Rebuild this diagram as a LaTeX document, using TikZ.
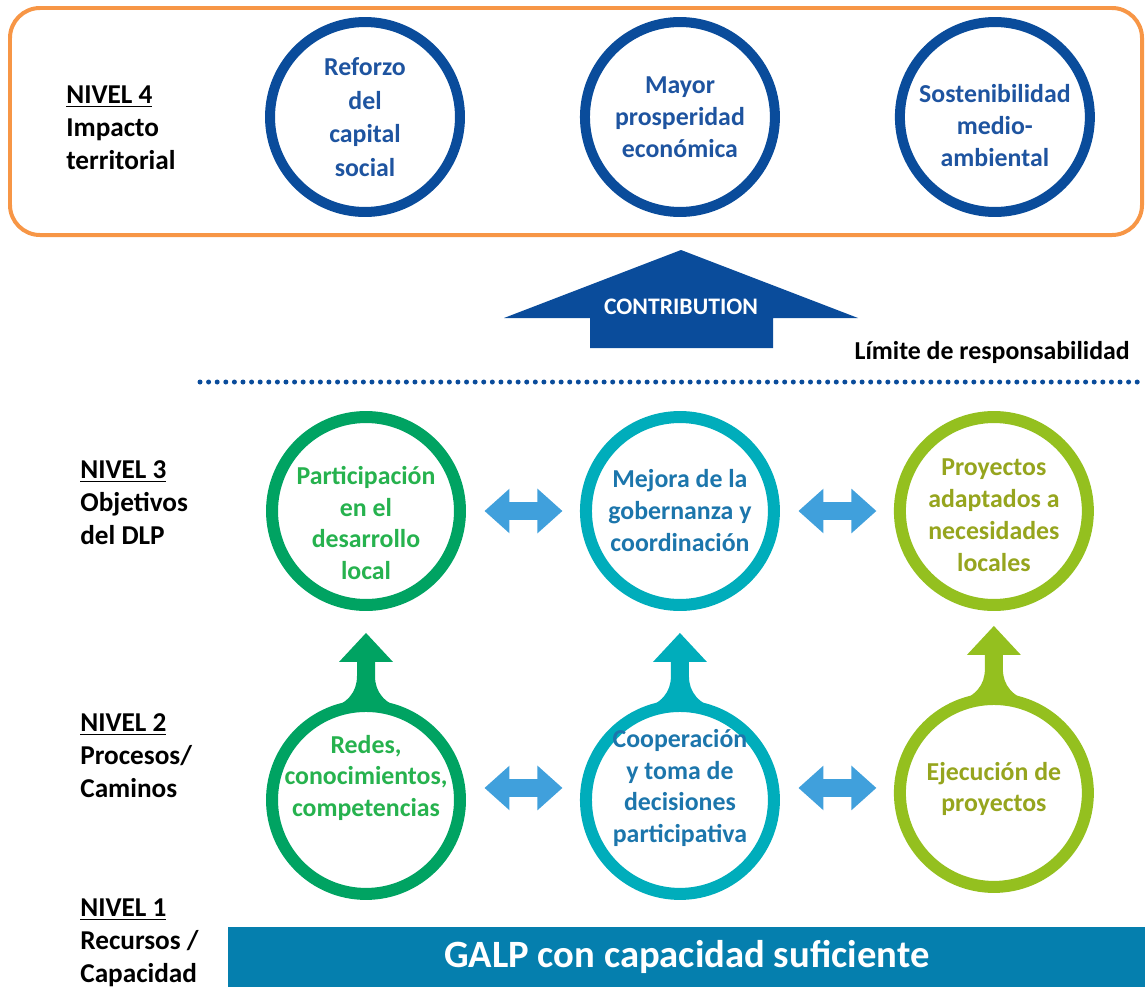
\documentclass[tikz,border=0pt]{standalone}
\usepackage{fontspec}
\setmainfont{Carlito}
\usetikzlibrary{positioning,calc,arrows.meta}

\definecolor{navy}{RGB}{10,76,155}
\definecolor{navytxt}{RGB}{30,84,160}
\definecolor{orng}{RGB}{247,150,70}
\definecolor{grn}{RGB}{0,163,98}
\definecolor{grntxt}{RGB}{38,178,78}
\definecolor{cyn}{RGB}{0,173,187}
\definecolor{cyntxt}{RGB}{28,118,172}
\definecolor{olv}{RGB}{148,192,31}
\definecolor{olvtxt}{RGB}{150,165,30}
\definecolor{sky}{RGB}{64,160,220}
\definecolor{barblue}{RGB}{5,127,174}

\tikzset{
  ring/.style={circle, draw=#1, fill=white, line width=0.24cm, minimum size=3.76cm, inner sep=0pt},
  topring/.style={ring=navy, line width=0.2cm, minimum size=3.8cm},
  ctext/.style={text=#1, align=center, inner sep=0pt, font=\fontsize{14.7}{18.2}\selectfont\bfseries},
  lvl/.style={anchor=west, align=left, inner sep=0pt, font=\fontsize{15.5}{18.8}\selectfont\bfseries},
  dbl/.style={sky, line width=0.36cm, {Triangle[length=0.5cm,width=0.86cm]}-{Triangle[length=0.5cm,width=0.86cm]}, shorten <=0.37cm, shorten >=0.35cm},
}

\begin{document}
\begin{tikzpicture}[x=0.02cm, y={(0cm,-0.02cm)}]
        \useasboundingbox (0,0) rectangle (1145,987);
        
        % nivel 4
        \draw[orng, line width=0.08cm, rounded corners=0.6cm] (10,8) rectangle (1142,235);
        \node[lvl] (n4) at (66,128) {\underline{NIVEL 4}\\Impacto\\territorial};
        \node[topring, label={[ctext=navytxt, font=\fontsize{14.7}{19.2}\selectfont\bfseries]center:Reforzo\\del\\capital\\social}] (capital) at (365,117) {};
        \node[topring, right=2.3cm of capital, label={[ctext=navytxt]center:Mayor\\prosperidad\\económica}] (prosp) {};
        \node[topring, right=2.3cm of prosp, label={[ctext=navytxt, yshift=-0.18cm]center:Sostenibilidad\\medio-\\ambiental}] (sost) {};
        
        % contribucion
        \coordinate (tipc) at (681,250);
        \fill[navy] (tipc) -- ++(177,68) -- ++(-85,0) -- ++(0,30) -- ++(-183,0) -- ++(0,-30) -- ++(-86,0) -- cycle;
        \node[text=white, font=\fontsize{13.5}{16}\selectfont\bfseries] (contrib) at (681,307) {CONTRIBUTION};
        \node[anchor=east, inner sep=0pt, font=\fontsize{14.7}{18}\selectfont\bfseries] (limite) at (1130,352) {Límite de responsabilidad};
        \draw[navy, line width=0.1cm, line cap=round, dash pattern=on 0pt off 0.172cm] (200,382) -- (1145,382);
        
        % nivel 3
        \node[lvl] (n3) at (80,503) {\underline{NIVEL 3}\\Objetivos\\del DLP};
        \node[ring=grn, label={[ctext=grntxt, yshift=-0.24cm]center:Participación\\en el\\desarrollo\\local}] (part) at (366,511) {};
        \node[ring=cyn, right=2.28cm of part, label={[ctext=cyntxt]center:Mejora de la\\gobernanza y\\coordinación}] (gob) {};
        \node[ring=olv, right=2.28cm of gob, label={[ctext=olvtxt, yshift=-0.08cm]center:Proyectos\\adaptados a\\necesidades\\locales}] (proy) {};
        
        % nivel 2
        \node[lvl] (n2) at (80,756) {\underline{NIVEL 2}\\Procesos/\\Caminos};
        \node[ring=grn, below=1.78cm of part, label={[ctext=grntxt, yshift=0.44cm]center:Redes,\\conocimientos,\\competencias}] (redes) {};
        \node[ring=cyn, below=1.78cm of gob, label={[ctext=cyntxt, yshift=0.24cm]center:Cooperación\\y toma de\\decisiones\\participativa}] (coop) {};
        \node[ring=olv, below=1.64cm of proy, label={[ctext=olvtxt, yshift=0.08cm]center:Ejecución de\\proyectos}] (ejec) {};
        
        \foreach \a/\c in {redes/grn, coop/cyn, ejec/olv} {
            \begin{scope}[shift={(\a.north)}]
                \fill[\c] (-40,10) .. controls (-18,4) and (-9,-8) .. (-9,-24) -- (-9,-38) -- (-27,-38) -- (0,-67)
                    -- (27,-38) -- (9,-38) -- (9,-24) .. controls (9,-8) and (18,4) .. (40,10) -- cycle;
            \end{scope}
        }
        
        \draw[dbl] (part.east) -- (gob.west);
        \draw[dbl] (gob.east) -- (proy.west);
        \draw[dbl] ([yshift=0.24cm]redes.east) -- ([yshift=0.24cm]coop.west);
        \draw[dbl] ([yshift=0.24cm]coop.east) -- ([yshift=0.1cm]ejec.west);
        
        % nivel 1
        \node[lvl] (n1) at (80,943) {\underline{NIVEL 1}\\Recursos /\\Capacidad};
        \node[anchor=north west, fill=barblue, text=white, minimum width=18.34cm, minimum height=1.2cm, inner sep=0pt,
            font=\fontsize{22}{24}\selectfont\bfseries] (galp) at (228,927) {GALP con capacidad suficiente};
        
\end{tikzpicture}
\end{document}
